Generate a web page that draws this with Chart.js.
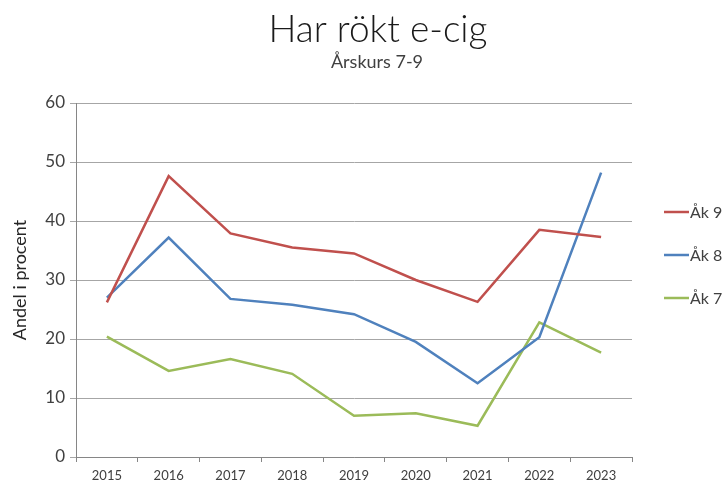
<!DOCTYPE html>
<html><head><meta charset="utf-8">
<script src="https://cdn.jsdelivr.net/npm/chart.js@4"></script>
<style>html,body{margin:0;padding:0;background:#fff}#wrap{width:724px;height:486px}</style>
</head><body><div id="wrap"><canvas id="c" width="724" height="486"></canvas></div>
<script>
const categories = ['2015','2016','2017','2018','2019','2020','2021','2022','2023'];
const ak9 = [26.2, 47.6, 37.9, 35.5, 34.5, 30.0, 26.3, 38.5, 37.3];
const ak8 = [27.0, 37.2, 26.8, 25.8, 24.2, 19.5, 12.5, 20.3, 48.2];
const ak7 = [20.4, 14.6, 16.6, 14.1, 7.0, 7.4, 5.3, 22.8, 17.7];
const seriesLabels = ['Åk 9','Åk 8','Åk 7'];
const seriesColors = ['#C0504D','#4F81BD','#9BBB59'];
const titleText = 'Har rökt e-cig';
const subtitleText = 'Årskurs 7-9';
const yTitle = 'Andel i procent';

const FONT = 'Lato, "Open Sans", sans-serif';

const textPlugin = {
  id: 'textPlugin',
  afterDraw(chart) {
    const ctx = chart.ctx;
    ctx.save();
    ctx.fillStyle = '#1a1a1a';
    ctx.textAlign = 'center';
    ctx.textBaseline = 'alphabetic';
    ctx.font = '300 37px ' + FONT;
    ctx.fillText(titleText, 378, 42);
    ctx.fillStyle = '#404040';
    ctx.font = '18px ' + FONT;
    ctx.fillText(subtitleText, 377, 68);
    // legend
    const ys = [212, 255, 298];
    chart.data.datasets.forEach((ds, i) => {
      ctx.strokeStyle = ds.borderColor;
      ctx.lineWidth = 2.5;
      ctx.beginPath();
      ctx.moveTo(664, ys[i]);
      ctx.lineTo(689, ys[i]);
      ctx.stroke();
      ctx.fillStyle = '#404040';
      ctx.textAlign = 'left';
      ctx.textBaseline = 'middle';
      ctx.font = '16px ' + FONT;
      ctx.fillText(ds.label, 690, ys[i] + 1);
    });
    ctx.restore();
  }
};

const data = {
  labels: categories,
  datasets: [ak9, ak8, ak7].map((d, i) => ({
    label: seriesLabels[i],
    data: d,
    borderColor: seriesColors[i],
    backgroundColor: seriesColors[i],
    borderWidth: 2.5,
    pointRadius: 0,
    tension: 0,
    fill: false
  }))
};

new Chart(document.getElementById('c'), {
  type: 'line',
  data,
  options: {
    responsive: false,
    animation: false,
    devicePixelRatio: 1,
    layout: { padding: { top: 103, right: 92, bottom: 0, left: 0 } },
    plugins: { legend: { display: false }, title: { display: false }, tooltip: { enabled: false } },
    scales: {
      x: {
        offset: true,
        grid: { display: true, drawOnChartArea: false, drawTicks: true, tickLength: 5, color: '#868686', offset: true },
        border: { color: '#868686', width: 1 },
        ticks: { color: '#404040', font: { family: FONT, size: 13 }, padding: 6, maxRotation: 0 },
        afterFit(s) { s.height = 29; }
      },
      y: {
        min: 0, max: 60,
        ticks: { stepSize: 10, color: '#404040', font: { family: FONT, size: 17 }, padding: 5 },
        grid: { color: '#a6a6a6', tickLength: 6, drawTicks: true },
        border: { color: '#868686', width: 1 },
        title: { display: true, text: yTitle, color: '#262626', font: { family: FONT, size: 18 }, padding: { top: 9, bottom: 0 } },
        afterFit(s) { s.width = 76; }
      }
    }
  },
  plugins: [textPlugin]
});
</script>
</body></html>
